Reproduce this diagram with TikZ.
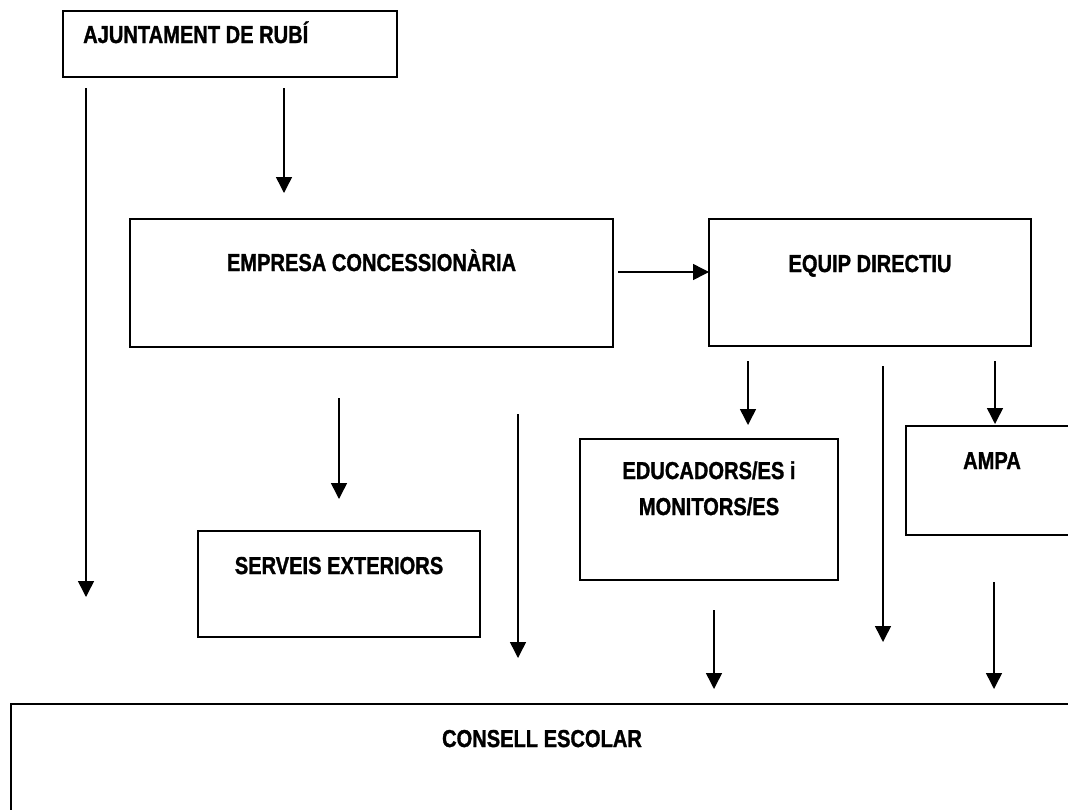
\documentclass[tikz,border=0pt]{standalone}
\usepackage{fontspec}
\setmainfont{Liberation Sans}[FakeStretch=0.82,BoldFeatures={FakeBold=1.2}]
\usetikzlibrary{arrows.meta}
\begin{document}
\begin{tikzpicture}[x=1pt,y=-1pt,
  boxx/.style={draw=black,line width=2.2pt},
  lbl/.style={inner sep=0pt,anchor=base,font=\fontsize{24.5}{36}\selectfont\bfseries},
  arr/.style={line width=1.5pt,-{Triangle[length=16pt,width=16pt]}}]
\useasboundingbox (0,0) rectangle (1068,809);
% boxes
\draw[boxx] (63,11) rectangle (397,77);
\draw[boxx] (130,219) rectangle (613,347);
\draw[boxx] (709,219) rectangle (1031,346);
\draw[boxx] (580,439) rectangle (838,580);
\draw[boxx] (906,426) rectangle (1080,535);
\draw[boxx] (198,531) rectangle (480,637);
\draw[boxx] (11,704) rectangle (1080,820);
% labels
\node[lbl,anchor=base west] (tAj) at (83,43) {AJUNTAMENT DE RUBÍ};
\node[lbl] (tEmp) at (371.5,271) {EMPRESA CONCESSIONÀRIA};
\node[lbl] (tEq) at (870,272) {EQUIP DIRECTIU};
\node[lbl] (tEd1) at (709,479) {EDUCADORS/ES i};
\node[lbl] (tEd2) at (709,515) {MONITORS/ES};
\node[lbl] (tAm) at (992,469) {AMPA};
\node[lbl] (tSe) at (339,574) {SERVEIS EXTERIORS};
\node[lbl] (tCo) at (542,747) {CONSELL ESCOLAR};
% arrow endpoints
\coordinate (a1s) at (86,88);   \coordinate (a1e) at (86,597);
\coordinate (a2s) at (284,88);  \coordinate (a2e) at (284,193);
\coordinate (a3s) at (339,398); \coordinate (a3e) at (339,499);
\coordinate (a4s) at (518,414); \coordinate (a4e) at (518,658);
\coordinate (a5s) at (618,272); \coordinate (a5e) at (709,272);
\coordinate (a6s) at (748,361); \coordinate (a6e) at (748,425);
\coordinate (a7s) at (883,366); \coordinate (a7e) at (883,642);
\coordinate (a8s) at (995,361); \coordinate (a8e) at (995,424);
\coordinate (a9s) at (714,610); \coordinate (a9e) at (714,689);
\coordinate (a10s) at (994,582); \coordinate (a10e) at (994,689);
\foreach \i in {1,...,10} {\draw[arr] (a\i s) -- (a\i e);}
\end{tikzpicture}
\end{document}
